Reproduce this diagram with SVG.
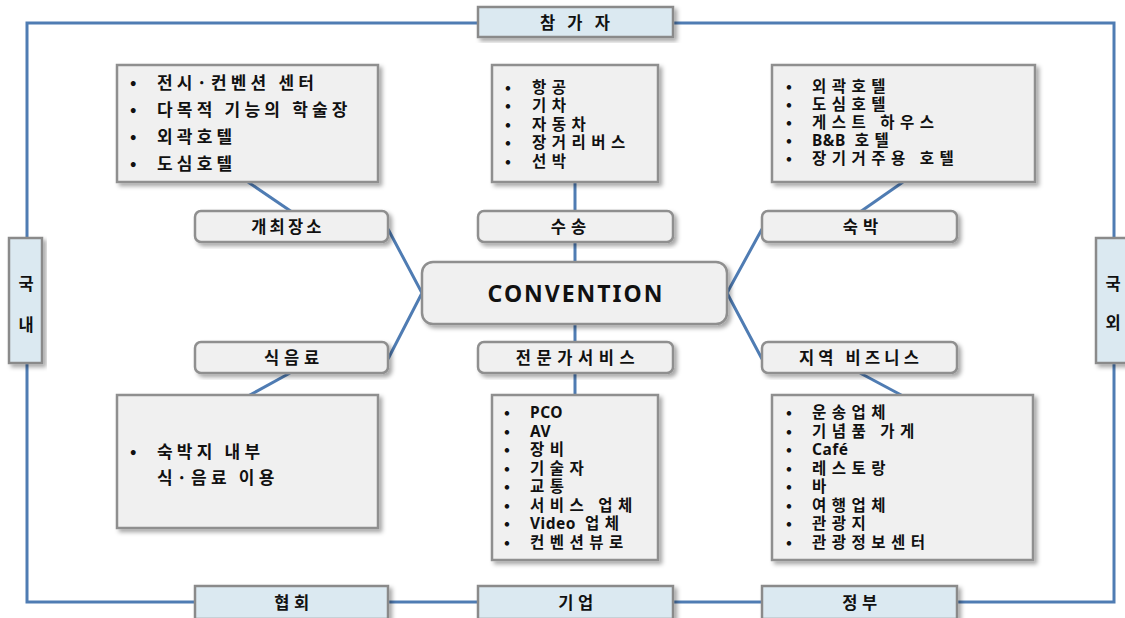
<svg xmlns="http://www.w3.org/2000/svg" width="1125" height="618" viewBox="0 0 1125 618">
<defs>
<filter id="sh" x="-10%" y="-10%" width="125%" height="130%">
<feDropShadow dx="3" dy="3" stdDeviation="2" flood-color="#000" flood-opacity="0.35"/>
</filter>
<style>
.frame{fill:none;stroke:#4f7cb3;stroke-width:3}
.con{fill:none;stroke:#4f7cb3;stroke-width:3}
.blue{fill:#dbe9f1;stroke:#8a8a8a;stroke-width:2.5}
.card{fill:#f0f0f0;stroke:#8f8f8f;stroke-width:2.5}
.lbl{fill:#f0f0f0;stroke:#8f8f8f;stroke-width:2.5}
text{font-family:"Noto Sans CJK KR","Noto Sans",sans-serif;fill:#111}
.t{font-size:16.5px;font-weight:700;text-anchor:middle;dominant-baseline:central}
.li{font-size:15.5px;font-weight:700;letter-spacing:5.5px}
.big{font-size:17px;font-weight:700;letter-spacing:4.2px}
.lat{font-family:"Noto Sans","Open Sans",sans-serif;font-weight:700;letter-spacing:0.5px}
</style>
</defs>
<rect width="1125" height="618" fill="#fff"/>
<g id="frame"><rect class="frame" x="27" y="23" width="1087" height="579"/></g>
<g id="connectors">
<line class="con" x1="248" y1="182" x2="292" y2="212"/>
<line class="con" x1="575" y1="182" x2="575" y2="212"/>
<line class="con" x1="903" y1="182" x2="860" y2="212"/>
<polyline class="con" points="388,229 422,293 388,359"/>
<polyline class="con" points="762,229 727,293 762,359"/>
<line class="con" x1="575" y1="242" x2="575" y2="263"/>
<line class="con" x1="575" y1="323" x2="575" y2="343"/>
<line class="con" x1="575" y1="373" x2="575" y2="396"/>
<line class="con" x1="290" y1="373" x2="248" y2="396"/>
<line class="con" x1="860" y1="373" x2="903" y2="396"/>
</g>
<g id="n-participant"><rect class="blue" x="478" y="7" width="195" height="30" filter="url(#sh)"/><text class="t" x="577" y="22" style="letter-spacing:4.2px">참 가 자</text></g>
<g id="n-domestic"><rect class="blue" x="9" y="238" width="33" height="125" filter="url(#sh)"/><text class="t" x="26" y="283">국</text><text class="t" x="26" y="324">내</text></g>
<g id="n-foreign"><rect class="blue" x="1096" y="238" width="33" height="125" filter="url(#sh)"/><text class="t" x="1113" y="283">국</text><text class="t" x="1113" y="322">외</text></g>
<g id="n-assoc"><rect class="blue" x="195" y="586" width="193" height="33" filter="url(#sh)"/><text class="t" x="294" y="602" style="letter-spacing:4.5px">협회</text></g>
<g id="n-corp"><rect class="blue" x="478" y="586" width="195" height="33" filter="url(#sh)"/><text class="t" x="578" y="602" style="letter-spacing:4.5px">기업</text></g>
<g id="n-gov"><rect class="blue" x="762" y="586" width="195" height="33" filter="url(#sh)"/><text class="t" x="862" y="602" style="letter-spacing:4.5px">정부</text></g>

<g id="n-venue-list"><rect class="card" x="117" y="65" width="261" height="117" filter="url(#sh)"/>
<text class="big"><tspan x="130" y="89">•</tspan><tspan x="157" y="89">전시·컨벤션 센터</tspan><tspan x="130" y="116">•</tspan><tspan x="157" y="116">다목적 기능의 학술장</tspan><tspan x="130" y="143">•</tspan><tspan x="157" y="143">외곽호텔</tspan><tspan x="130" y="170">•</tspan><tspan x="157" y="170">도심호텔</tspan></text></g>
<g id="n-transport-list"><rect class="card" x="492" y="65" width="166" height="117" filter="url(#sh)"/>
<text class="li"><tspan x="505" y="93">•</tspan><tspan x="532" y="93">항공</tspan><tspan x="505" y="111">•</tspan><tspan x="532" y="111">기차</tspan><tspan x="505" y="130">•</tspan><tspan x="532" y="130">자동차</tspan><tspan x="505" y="148">•</tspan><tspan x="532" y="148">장거리버스</tspan><tspan x="505" y="167">•</tspan><tspan x="532" y="167">선박</tspan></text></g>
<g id="n-lodging-list"><rect class="card" x="772" y="65" width="263" height="117" filter="url(#sh)"/>
<text class="li"><tspan x="786" y="92">•</tspan><tspan x="812" y="92">외곽호텔</tspan><tspan x="786" y="110">•</tspan><tspan x="812" y="110">도심호텔</tspan><tspan x="786" y="128">•</tspan><tspan x="812" y="128">게스트 하우스</tspan><tspan x="786" y="146">•</tspan><tspan x="812" y="146" class="lat">B&amp;B</tspan><tspan> 호텔</tspan><tspan x="786" y="164">•</tspan><tspan x="812" y="164">장기거주용 호텔</tspan></text></g>

<g id="n-venue"><rect class="lbl" x="195" y="211" width="193" height="31" rx="6" filter="url(#sh)"/><text class="t" x="288" y="226" style="letter-spacing:3.2px">개최장소</text></g>
<g id="n-transport"><rect class="lbl" x="478" y="211" width="195" height="31" rx="6" filter="url(#sh)"/><text class="t" x="571" y="226" style="letter-spacing:5px">수송</text></g>
<g id="n-lodging"><rect class="lbl" x="762" y="211" width="195" height="31" rx="6" filter="url(#sh)"/><text class="t" x="863" y="226" style="letter-spacing:5px">숙박</text></g>

<g id="n-convention"><rect class="lbl" x="422" y="262" width="305" height="62" rx="11" filter="url(#sh)"/><text x="576" y="293" style="font-family:'Noto Sans','Open Sans',sans-serif;font-size:23px;font-weight:700;letter-spacing:2px;text-anchor:middle;dominant-baseline:central">CONVENTION</text></g>

<g id="n-food"><rect class="lbl" x="195" y="342" width="193" height="31" rx="6" filter="url(#sh)"/><text class="t" x="294" y="357" style="letter-spacing:4.8px">식음료</text></g>
<g id="n-expert"><rect class="lbl" x="478" y="342" width="195" height="31" rx="6" filter="url(#sh)"/><text class="t" x="578" y="357" style="letter-spacing:5.6px">전문가서비스</text></g>
<g id="n-local"><rect class="lbl" x="762" y="342" width="195" height="31" rx="6" filter="url(#sh)"/><text class="t" x="861" y="357" style="letter-spacing:4.2px">지역 비즈니스</text></g>

<g id="n-food-list"><rect class="card" x="117" y="395" width="261" height="133" filter="url(#sh)"/>
<text class="big"><tspan x="130" y="458">•</tspan><tspan x="157" y="458">숙박지 내부</tspan><tspan x="157" y="484">식·음료 이용</tspan></text></g>
<g id="n-expert-list"><rect class="card" x="492" y="395" width="166" height="165" filter="url(#sh)"/>
<text class="li"><tspan x="504" y="418">•</tspan><tspan x="530" y="418" class="lat">PCO</tspan><tspan x="504" y="437">•</tspan><tspan x="530" y="437" class="lat">AV</tspan><tspan x="504" y="455">•</tspan><tspan x="530" y="455">장비</tspan><tspan x="504" y="474">•</tspan><tspan x="530" y="474">기술자</tspan><tspan x="504" y="492">•</tspan><tspan x="530" y="492">교통</tspan><tspan x="504" y="511">•</tspan><tspan x="530" y="511">서비스 업체</tspan><tspan x="504" y="529">•</tspan><tspan x="530" y="529" class="lat">Video</tspan><tspan> 업체</tspan><tspan x="504" y="548">•</tspan><tspan x="530" y="548">컨벤션뷰로</tspan></text></g>
<g id="n-local-list"><rect class="card" x="772" y="395" width="261" height="165" filter="url(#sh)"/>
<text class="li"><tspan x="786" y="418">•</tspan><tspan x="812" y="418">운송업체</tspan><tspan x="786" y="437">•</tspan><tspan x="812" y="437">기념품 가게</tspan><tspan x="786" y="455">•</tspan><tspan x="812" y="455" class="lat">Café</tspan><tspan x="786" y="474">•</tspan><tspan x="812" y="474">레스토랑</tspan><tspan x="786" y="492">•</tspan><tspan x="812" y="492">바</tspan><tspan x="786" y="511">•</tspan><tspan x="812" y="511">여행업체</tspan><tspan x="786" y="529">•</tspan><tspan x="812" y="529">관광지</tspan><tspan x="786" y="548">•</tspan><tspan x="812" y="548">관광정보센터</tspan></text></g>
</svg>
